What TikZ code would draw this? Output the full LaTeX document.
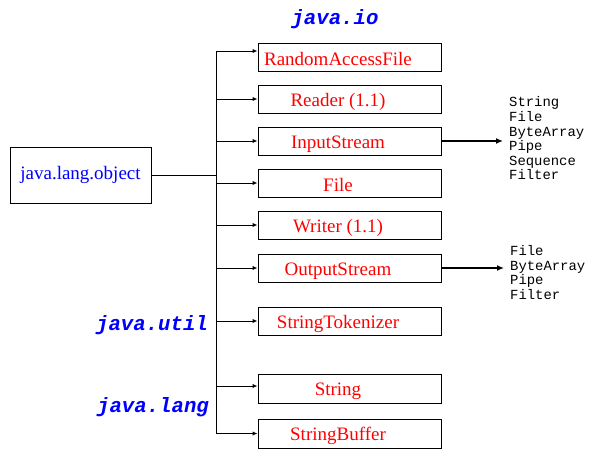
\documentclass[tikz,border=0pt]{standalone}
\usepackage{fontspec}
\setmainfont{Liberation Serif}
\setmonofont{Liberation Mono}
\usetikzlibrary{arrows.meta}

\tikzset{
  root/.style={draw,line width=1pt,minimum width=141pt,minimum height=56pt,inner sep=0pt,text=blue,font=\fontsize{19}{22}\selectfont},
  cls/.style={draw,line width=1pt,minimum width=183pt,minimum height=28pt,inner sep=0pt,text height=14pt,text depth=0pt,text=red,font=\fontsize{19}{22}\selectfont,execute at end node={\hspace*{23pt}}},
  pkg/.style={text=blue,inner sep=0pt,font=\ttfamily\bfseries\itshape\fontsize{20.7}{24}\selectfont},
  sub/.style={align=left,inner xsep=6pt,inner ysep=0pt,font=\ttfamily\fontsize{13.9}{14.6}\selectfont},
  tick/.style={-{Latex[length=5pt,width=4.5pt]},line width=1pt},
  flow/.style={-{Latex[length=7pt,width=6pt]},line width=2pt}
}

\begin{document}
\begin{tikzpicture}[x=1pt,y=-1pt]
  \useasboundingbox (0,0) rectangle (596,459);

  % root class
  \node[root] (obj) at (80.5,175) {java.lang.object};

  % classes
  \node[cls,text height=17pt] (raf) at (349.5,57) {RandomAccessFile};
  \node[cls] (rdr) at (349.5,99) {Reader (1.1)};
  \node[cls] (ins) at (349.5,141) {InputStream};
  \node[cls,text height=16pt] (fil) at (349.5,183) {File};
  \node[cls] (wrt) at (349.5,225) {Writer (1.1)};
  \node[cls] (outs) at (349.5,268) {OutputStream};
  \node[cls] (tok) at (349.5,321) {StringTokenizer};
  \node[cls,minimum height=29pt] (str) at (349.5,388.5) {String};
  \node[cls,minimum height=29pt] (sbuf) at (349.5,433.5) {StringBuffer};

  % packages
  \node[pkg] (io) at (335,19) {java.io};
  \node[pkg] (util) at (152,325) {java.util};
  \node[pkg] (lang) at (153,407) {java.lang};

  % subclasses
  \node[sub,anchor=west] (insub) at (503,138.5) {String\\File\\ByteArray\\Pipe\\Sequence\\Filter};
  \node[sub,anchor=west] (outsub) at (504,272.5) {File\\ByteArray\\Pipe\\Filter};

  % tree
  \coordinate (trunk) at (216,175);
  \coordinate (raf-in) at ([yshift=6pt]raf.west);
  \coordinate (str-in) at ([yshift=2.5pt]str.west);
  \draw[line width=1pt] (obj.east) -- (trunk);
  \draw[line width=1pt] (raf-in -| trunk) -- (sbuf.west -| trunk);

  \draw[tick] (raf-in -| trunk) -- (raf-in);
  \draw[tick] (rdr.west -| trunk) -- (rdr.west);
  \draw[tick] (ins.west -| trunk) -- (ins.west);
  \draw[tick] (fil.west -| trunk) -- (fil.west);
  \draw[tick] (wrt.west -| trunk) -- (wrt.west);
  \draw[tick] (outs.west -| trunk) -- (outs.west);
  \draw[tick] (tok.west -| trunk) -- (tok.west);
  \draw[tick] (str-in -| trunk) -- (str-in);
  \draw[tick] (sbuf.west -| trunk) -- (sbuf.west);

  \draw[flow] (ins.east) -- (ins.east -| insub.west);
  \draw[flow] (outs.east) -- (outs.east -| outsub.west);
\end{tikzpicture}
\end{document}
